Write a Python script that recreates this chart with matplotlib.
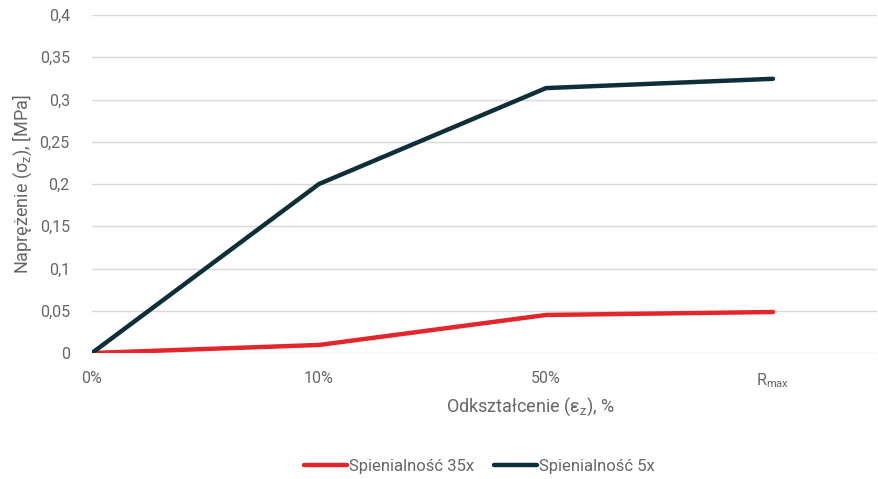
import matplotlib
matplotlib.use('Agg')
import matplotlib.pyplot as plt

# Dane
kategorie = ['0%', '10%', '50%', r'R$_{\mathregular{max}}$']
spienialnosc_35x = [0.0, 0.0095, 0.045, 0.0485]
spienialnosc_5x = [0.0, 0.2, 0.3135, 0.3245]
y_ticks = [0, 0.05, 0.1, 0.15, 0.2, 0.25, 0.3, 0.35, 0.4]
y_labels = ['0', '0,05', '0,1', '0,15', '0,2', '0,25', '0,3', '0,35', '0,4']

szary = '#666666'
plt.rcParams['font.family'] = ['Roboto', 'DejaVu Sans']
plt.rcParams['mathtext.fontset'] = 'custom'
plt.rcParams['mathtext.rm'] = 'Roboto'
plt.rcParams['mathtext.it'] = 'Roboto'

fig = plt.figure(figsize=(8.79, 4.79), dpi=100)
ax = fig.add_axes([92 / 879, 1 - 353 / 479, 785 / 879, 338 / 479])

x = range(len(kategorie))
ax.plot(x, spienialnosc_35x, color='#E3262B', lw=3.2, solid_capstyle='round',
        label='Spienialność 35x')
ax.plot(x, spienialnosc_5x, color='#0D2F3A', lw=3.2, solid_capstyle='round',
        label='Spienialność 5x')

ax.set_xlim(0, 785 / 227)
ax.set_ylim(0, 0.4)
ax.set_xticks(list(x))
ax.set_xticklabels(kategorie)
ax.set_yticks(y_ticks)
ax.set_yticklabels(y_labels)
ax.grid(axis='y', color='#D9D9D9', lw=1)
ax.set_axisbelow(True)
for s in ['top', 'right', 'left', 'bottom']:
    ax.spines[s].set_visible(False)
ax.tick_params(length=0, labelsize=11.5, labelcolor=szary)
ax.tick_params(axis='x', pad=13)
ax.tick_params(axis='y', pad=16)

ax.set_ylabel(r'Naprężenie (σ$_{\mathregular{z}}$), [MPa]', fontsize=13, color=szary, labelpad=4)
ax.set_xlabel(r'Odkształcenie (ε$_{\mathregular{z}}$), %', fontsize=13, color=szary)
ax.xaxis.set_label_coords((531 - 92) / 785, -0.125)

fig.legend(loc='center', bbox_to_anchor=(0.545, 1 - 466 / 479), ncol=2, frameon=False,
           fontsize=12, labelcolor=szary, handlelength=2.6, handletextpad=0.1,
           columnspacing=1.2)

fig.savefig('out.png', dpi=100)
